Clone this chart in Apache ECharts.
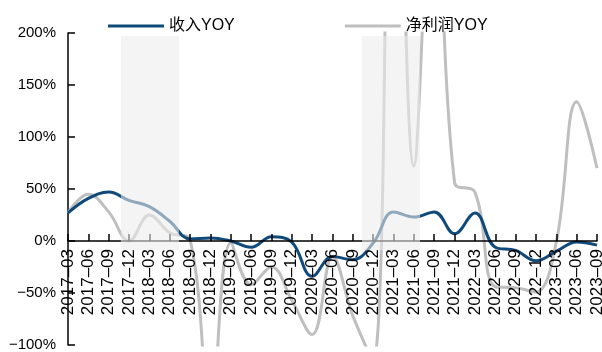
<!DOCTYPE html>
<html>
<head>
<meta charset="utf-8">
<script src="https://cdn.jsdelivr.net/npm/echarts@6/dist/echarts.min.js"></script>
<style>
  html, body { margin: 0; padding: 0; background: #fff; }
  #main { width: 602px; height: 352px; }
</style>
</head>
<body>
<div id="main"></div>
<script>
// quarters
const quarters = [
  "2017-03", "2017-06", "2017-09", "2017-12",
  "2018-03", "2018-06", "2018-09", "2018-12",
  "2019-03", "2019-06", "2019-09", "2019-12",
  "2020-03", "2020-06", "2020-09", "2020-12",
  "2021-03", "2021-06", "2021-09", "2021-12",
  "2022-03", "2022-06", "2022-09", "2022-12",
  "2023-03", "2023-06", "2023-09"
];
// 收入YOY (%)
const revenueYoy = [27, 41, 47, 39, 33, 19, 2, 3, 0, -6, 4, -1, -34, -15, -18, -2, 28, 23, 28, 7, 27, -6, -9, -19, -10, -1, -4];
// 净利润YOY (%)
const profitYoy = [27, 45, 28, 0, 25, 8, 1, -165, -2, -42, -25, -57, -90, -15, -72, -115, 620, 72, 380, 56, 47, -44, -45, -49, -1, 134, 70];
// shaded periods, in quarter index units (start, end)
const shadePeriods = [[2.6, 5.45], [14.45, 17.3]];
const shadeTop = 197;
const shadeBottom = -9;
const yTicks = [-100, -50, 0, 50, 100, 150, 200];

const font = "Liberation Sans, Arial, Noto Sans CJK SC";
const gridTop = 33;
const gridBottom = 7;
const chartHeight = 352;
const yMin = yTicks[0];
const yMax = yTicks[yTicks.length - 1];
// distance from the bottom of the grid up to the 0% line
const zeroOffset = ((0 - yMin) / (yMax - yMin)) * (chartHeight - gridTop - gridBottom);

let myChart = echarts.init(document.getElementById("main"));
let option = {
  animation: false,
  legend: {
    left: 108,
    top: 13,
    padding: [5, 0, 0, 0],
    itemGap: 110,
    itemWidth: 56,
    itemHeight: 3,
    icon: "rect",
    textStyle: { fontFamily: font, fontSize: 16, color: "#000" },
    data: ["收入YOY", "净利润YOY"]
  },
  grid: { left: 68, right: 5, top: gridTop, bottom: gridBottom, containLabel: false, outerBoundsMode: "none" },
  xAxis: [
    {
      // axis drawn along the 0% line
      type: "category",
      data: quarters,
      boundaryGap: false,
      position: "bottom",
      offset: -zeroOffset,
      z: 4,
      axisLine: { onZero: false, lineStyle: { color: "#000", width: 1.5 } },
      axisTick: { show: true, inside: true, length: 7, interval: 0, lineStyle: { color: "#000", width: 1.5 } },
      axisLabel: {
        rotate: 90,
        margin: 8,
        interval: 0,
        fontFamily: font,
        fontSize: 17,
        color: "#000",
        formatter: (v) => v.replace("-", "–")
      },
      splitLine: { show: false }
    },
    {
      type: "value",
      min: 0,
      max: quarters.length - 1,
      show: false
    }
  ],
  yAxis: {
    type: "value",
    min: yMin,
    max: yMax,
    interval: 50,
    axisLine: { show: true, onZero: false, lineStyle: { color: "#000", width: 1.5 } },
    axisTick: { show: true, inside: true, length: 7, lineStyle: { color: "#000", width: 1.5 } },
    axisLabel: {
      fontFamily: font,
      fontSize: 15,
      color: "#000",
      margin: 12,
      formatter: (v) => (v < 0 ? "\u2212" + Math.abs(v) : v) + "%"
    },
    splitLine: { show: false }
  },
  series: [
    {
      name: "收入YOY",
      type: "line",
      data: revenueYoy,
      smooth: 0.4,
      symbol: "none",
      z: 3,
      lineStyle: { color: "#0f4a7a", width: 3 },
      itemStyle: { color: "#0f4a7a" }
    },
    {
      name: "净利润YOY",
      type: "line",
      data: profitYoy,
      smooth: 0.4,
      symbol: "none",
      z: 2,
      lineStyle: { color: "#bfbfbf", width: 3 },
      itemStyle: { color: "#bfbfbf" }
    },
    {
      name: "shade",
      type: "line",
      xAxisIndex: 1,
      data: [],
      z: 10,
      silent: true,
      markArea: {
        silent: true,
        z: 10,
        itemStyle: { color: "rgba(236,236,236,0.58)" },
        data: shadePeriods.map((p) => [
          { xAxis: p[0], yAxis: shadeTop },
          { xAxis: p[1], yAxis: shadeBottom }
        ])
      }
    }
  ]
};
option && myChart.setOption(option);
</script>
</body>
</html>
